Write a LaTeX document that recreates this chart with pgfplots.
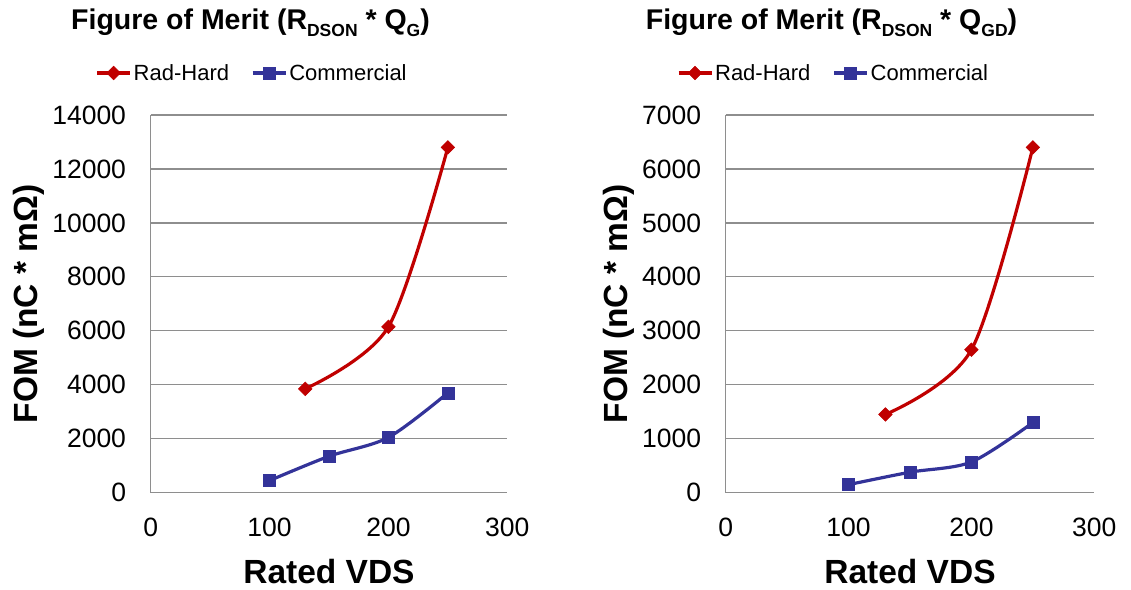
\documentclass[border=0pt]{standalone}
\usepackage{fontspec}
\setmainfont{Liberation Sans}
\usepackage{pgfplots}
\pgfplotsset{compat=1.18}

\definecolor{radred}{HTML}{C00000}
\definecolor{comblue}{HTML}{333399}
\definecolor{gridgray}{HTML}{8E8E8E}

\newcommand{\sub}[1]{\raisebox{-7pt}{\fontsize{17.5}{20}\selectfont\bfseries #1}}

\pgfplotsset{
  fomaxis/.style={
    scale only axis,
    height=377.7pt,
    xmin=0, xmax=300, ymin=0,
    xtick={0,100,200,300},
    scaled ticks=false,
    axis lines*=left,
    axis line style={gridgray, line width=1.2pt},
    ymajorgrids,
    major grid style={gridgray, line width=1.2pt},
    major tick length=0pt,
    /pgf/number format/assume math mode=true,
    /pgf/number format/1000 sep={},
    tick label style={font=\fontsize{26.5}{31}\selectfont},
    yticklabel style={inner sep=0pt, xshift=-24.5pt},
    xticklabel style={inner sep=0pt, yshift=-25pt},
    xlabel={Rated VDS},
    ylabel={FOM (nC * mΩ)},
    label style={font=\fontsize{33.5}{40}\selectfont\bfseries},
    xlabel style={at={(axis description cs:0.5,-0.240)}, anchor=base},
    title style={font=\fontsize{28.5}{34}\selectfont\bfseries, anchor=base, inner sep=0pt},
    legend columns=2,
    legend style={draw=none, fill=none, anchor=center,
      font=\fontsize{22}{26}\selectfont,
      nodes={inner sep=2pt},
      /tikz/every even column/.append style={column sep=20pt}},
    legend image code/.code={%
      \draw[mark repeat=2, mark phase=2, #1]
        plot coordinates {(0pt,0pt) (16.5pt,0pt) (33pt,0pt)};},
  },
  radhard/.style={radred, line width=3.2pt, smooth,
    mark=square*, mark size=4.8pt,
    mark options={rotate=45, fill=radred, draw=radred, line width=0.6pt}},
  commercial/.style={comblue, line width=3.2pt, smooth,
    mark=square*, mark size=6pt,
    mark options={fill=comblue, draw=comblue, line width=0.6pt}},
}

\begin{document}
\begin{tikzpicture}
\path[use as bounding box] (0pt,0pt) rectangle (1131pt,589pt);

% R_DSON * Q_G
\begin{axis}[fomaxis,
  at={(150.7pt,96.3pt)}, anchor=south west,
  width=356.6pt,
  ymax=14000, ytick={0,2000,...,14000},
  ylabel style={at={(axis description cs:-0.318,0.5)}, anchor=base},
  title={Figure of Merit (R\sub{DSON} * Q\sub{G})},
  title style={at={(axis description cs:0.2799,1.2092)}},
  legend style={at={(axis description cs:0.2843,1.1112)}},
]
\addplot+[radhard] coordinates {(130,3850) (200,6150) (250,12800)};
\addlegendentry{Rad-Hard}
\addplot+[commercial] coordinates {(100,450) (150,1350) (200,2050) (250,3700)};
\addlegendentry{Commercial}
\end{axis}

% R_DSON * Q_GD
\begin{axis}[fomaxis,
  at={(725.7pt,96.3pt)}, anchor=south west,
  width=368.6pt,
  ymax=7000, ytick={0,1000,...,7000},
  ylabel style={at={(axis description cs:-0.267,0.5)}, anchor=base},
  title={Figure of Merit (R\sub{DSON} * Q\sub{GD})},
  title style={at={(axis description cs:0.287,1.2092)}},
  legend style={at={(axis description cs:0.2924,1.1112)}},
]
\addplot+[radhard] coordinates {(130,1450) (200,2650) (250,6400)};
\addlegendentry{Rad-Hard}
\addplot+[commercial] coordinates {(100,150) (150,380) (200,570) (250,1300)};
\addlegendentry{Commercial}
\end{axis}
\end{tikzpicture}
\end{document}
